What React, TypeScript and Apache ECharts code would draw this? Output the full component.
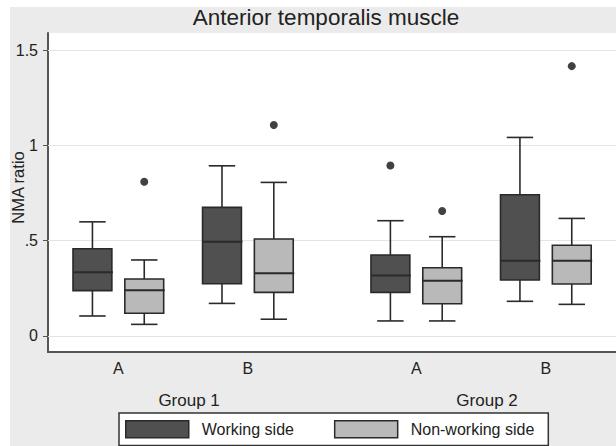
import React, { useEffect, useRef } from "react";
import * as echarts from "echarts";

const chartTitle = "Anterior temporalis muscle";
const yAxisName = "NMA ratio";
const groups = ["Group 1", "Group 2"];
const categories = ["A", "B"];
const seriesNames = ["Working side", "Non-working side"];

// [min whisker, Q1, median, Q3, max whisker] for G1-A, G1-B, G2-A, G2-B
const workingStats = [
  [0.105, 0.238, 0.334, 0.458, 0.599],
  [0.171, 0.274, 0.495, 0.675, 0.893],
  [0.079, 0.229, 0.318, 0.425, 0.605],
  [0.182, 0.294, 0.395, 0.741, 1.042],
];
const nonWorkingStats = [
  [0.061, 0.119, 0.240, 0.299, 0.399],
  [0.088, 0.229, 0.329, 0.509, 0.806],
  [0.079, 0.169, 0.290, 0.358, 0.521],
  [0.166, 0.273, 0.395, 0.476, 0.617],
];
// [box index, value]
const workingOutliers = [[2, 0.895]];
const nonWorkingOutliers = [
  [0, 0.809],
  [1, 1.107],
  [2, 0.656],
  [3, 1.416],
];
const yTickValues = [0, 0.5, 1, 1.5];
const yTickLabels = ["0", ".5", "1", "1.5"];

const GROUP_GAP = 0.3;
const SIDE_OFFSET = 0.2;
const BOX_WIDTH = 0.3;
const FONT = "'Liberation Sans', Arial, Helvetica, sans-serif";
const DARK = "#505050";
const LIGHT = "#b9b9b9";
const EDGE = "#2a2a2a";

const slotPos = (i: number) => {
  const g = Math.floor(i / categories.length);
  const c = i % categories.length;
  return g * (categories.length + GROUP_GAP) + c;
};
const catPositions = groups.flatMap((_, g) =>
  categories.map((_, c) => g * (categories.length + GROUP_GAP) + c)
);
const catLabels = groups.flatMap(() => categories);
const groupPositions = groups.map(
  (_, g) => g * (categories.length + GROUP_GAP) + (categories.length - 1) / 2
);
const findLabel = (positions: number[], labels: string[], v: number) => {
  const idx = positions.findIndex((p) => Math.abs(p - v) < 1e-6);
  return idx >= 0 ? labels[idx] : "";
};

const renderBox = (fill: string) => (params: any, api: any) => {
  const x = api.value(0);
  const lo = api.coord([x, api.value(1)]);
  const q1 = api.coord([x, api.value(2)]);
  const med = api.coord([x, api.value(3)]);
  const q3 = api.coord([x, api.value(4)]);
  const hi = api.coord([x, api.value(5)]);
  const w = api.size([BOX_WIDTH, 0])[0];
  const cap = w * 0.68;
  const cx = q1[0];
  const ls = { stroke: EDGE, lineWidth: 1.6 };
  return {
    type: "group",
    children: [
      { type: "line", shape: { x1: cx, y1: lo[1], x2: cx, y2: q1[1] }, style: ls },
      { type: "line", shape: { x1: cx, y1: q3[1], x2: cx, y2: hi[1] }, style: ls },
      { type: "line", shape: { x1: cx - cap / 2, y1: lo[1], x2: cx + cap / 2, y2: lo[1] }, style: ls },
      { type: "line", shape: { x1: cx - cap / 2, y1: hi[1], x2: cx + cap / 2, y2: hi[1] }, style: ls },
      {
        type: "rect",
        shape: { x: cx - w / 2, y: q3[1], width: w, height: q1[1] - q3[1] },
        style: { fill, stroke: EDGE, lineWidth: 1.6 },
      },
      {
        type: "line",
        shape: { x1: cx - w / 2, y1: med[1], x2: cx + w / 2 + 1, y2: med[1] },
        style: { stroke: EDGE, lineWidth: 2 },
      },
    ],
  };
};

export default function App() {
  const ref = useRef<HTMLDivElement>(null);
  useEffect(() => {
    if (!ref.current) return;
    const chart = echarts.init(ref.current, undefined, { renderer: "svg" });
    const xMin = -0.543;
    const xMax = groupPositions[groupPositions.length - 1] + (categories.length - 1) / 2 + 0.5415;
    chart.setOption({
      animation: false,
      backgroundColor: "#ffffff",
      textStyle: { fontFamily: FONT },
      graphic: [
        {
          type: "rect",
          z: -100,
          silent: true,
          shape: { x: 10, y: 7, width: 606, height: 439 },
          style: { fill: "#ebebeb" },
        },
        {
          type: "text",
          x: 326,
          y: 17,
          style: {
            text: chartTitle,
            fontSize: 22.5,
            fontFamily: FONT,
            fill: "#222",
            align: "center",
            verticalAlign: "middle",
          },
        },
        {
          type: "text",
          x: 17.5,
          y: 187.5,
          rotation: Math.PI / 2,
          style: {
            text: yAxisName,
            fontSize: 16.5,
            fontFamily: FONT,
            fill: "#222",
            align: "center",
            verticalAlign: "middle",
          },
        },
      ],
      grid: {
        left: 48,
        right: 0,
        top: 33,
        bottom: 94,
        show: true,
        backgroundColor: "#ffffff",
        borderWidth: 0,
      },
      xAxis: [
        {
          type: "value",
          min: xMin,
          max: xMax,
          position: "bottom",
          axisLine: { show: true, onZero: false, lineStyle: { color: "#555", width: 2 } },
          axisTick: { show: false },
          splitLine: { show: false },
          axisLabel: {
            customValues: catPositions,
            formatter: (v: number) => findLabel(catPositions, catLabels, v),
            fontSize: 16,
            color: "#222",
            margin: 8,
            fontFamily: FONT,
          },
        },
        {
          type: "value",
          min: xMin,
          max: xMax,
          position: "bottom",
          axisLine: { show: false, onZero: false },
          axisTick: { show: false },
          splitLine: { show: false },
          axisLabel: {
            customValues: groupPositions,
            formatter: (v: number) => findLabel(groupPositions, groups, v),
            fontSize: 17,
            color: "#222",
            margin: 40,
            padding: [0, 0, 0, 12],
            fontFamily: FONT,
          },
        },
      ],
      yAxis: {
        type: "value",
        min: -0.084,
        max: 1.59,
        position: "left",
        axisLine: { show: true, onZero: false, lineStyle: { color: "#555", width: 2 } },
        axisTick: {
          show: true,
          customValues: yTickValues,
          length: 5,
          lineStyle: { color: "#555", width: 1 },
        },
        splitLine: { show: false },
        axisLabel: {
          customValues: yTickValues,
          formatter: (v: number) => findLabel(yTickValues, yTickLabels, v),
          fontSize: 16,
          color: "#222",
          margin: 10,
          fontFamily: FONT,
        },
      },
      legend: {
        left: 119,
        top: 413,
        selectedMode: false,
        icon: "rect",
        itemWidth: 63,
        itemHeight: 17,
        itemGap: 40,
        padding: [7, 14, 7, 6],
        backgroundColor: "#ffffff",
        borderColor: "#333",
        borderWidth: 1.5,
        borderRadius: 0,
        textStyle: {
          fontSize: 16,
          color: "#222",
          fontFamily: FONT,
          padding: [0, 0, 0, 8],
          lineHeight: 17,
        },
        data: [
          { name: seriesNames[0], itemStyle: { color: DARK, borderColor: EDGE, borderWidth: 1.5 } },
          { name: seriesNames[1], itemStyle: { color: LIGHT, borderColor: EDGE, borderWidth: 1.5 } },
        ],
      },
      series: [
        {
          type: "line",
          name: "grid",
          data: [],
          z: 1,
          silent: true,
          markLine: {
            silent: true,
            symbol: "none",
            label: { show: false },
            lineStyle: { color: "#e4e4e4", width: 1, type: "solid" },
            data: yTickValues.map((v) => ({ yAxis: v })),
          },
        },
        {
          type: "custom",
          name: seriesNames[0],
          z: 5,
          itemStyle: { color: DARK },
          renderItem: renderBox(DARK),
          encode: { x: 0, y: [1, 2, 3, 4, 5] },
          data: workingStats.map((s, i) => [slotPos(i) - SIDE_OFFSET, ...s]),
        },
        {
          type: "custom",
          name: seriesNames[1],
          z: 5,
          itemStyle: { color: LIGHT },
          renderItem: renderBox(LIGHT),
          encode: { x: 0, y: [1, 2, 3, 4, 5] },
          data: nonWorkingStats.map((s, i) => [slotPos(i) + SIDE_OFFSET, ...s]),
        },
        {
          type: "scatter",
          name: "Working outliers",
          z: 6,
          symbolSize: 8,
          itemStyle: { color: "#111" },
          data: workingOutliers.map(([i, v]) => [slotPos(i) - SIDE_OFFSET, v]),
        },
        {
          type: "scatter",
          name: "Non-working outliers",
          z: 6,
          symbolSize: 8,
          itemStyle: { color: "#111" },
          data: nonWorkingOutliers.map(([i, v]) => [slotPos(i) + SIDE_OFFSET, v]),
        },
      ],
    });
    return () => chart.dispose();
  }, []);
  return (
    <div
      ref={ref}
      style={{ position: "absolute", left: 0, top: 0, width: 616, height: 446 }}
    />
  );
}
